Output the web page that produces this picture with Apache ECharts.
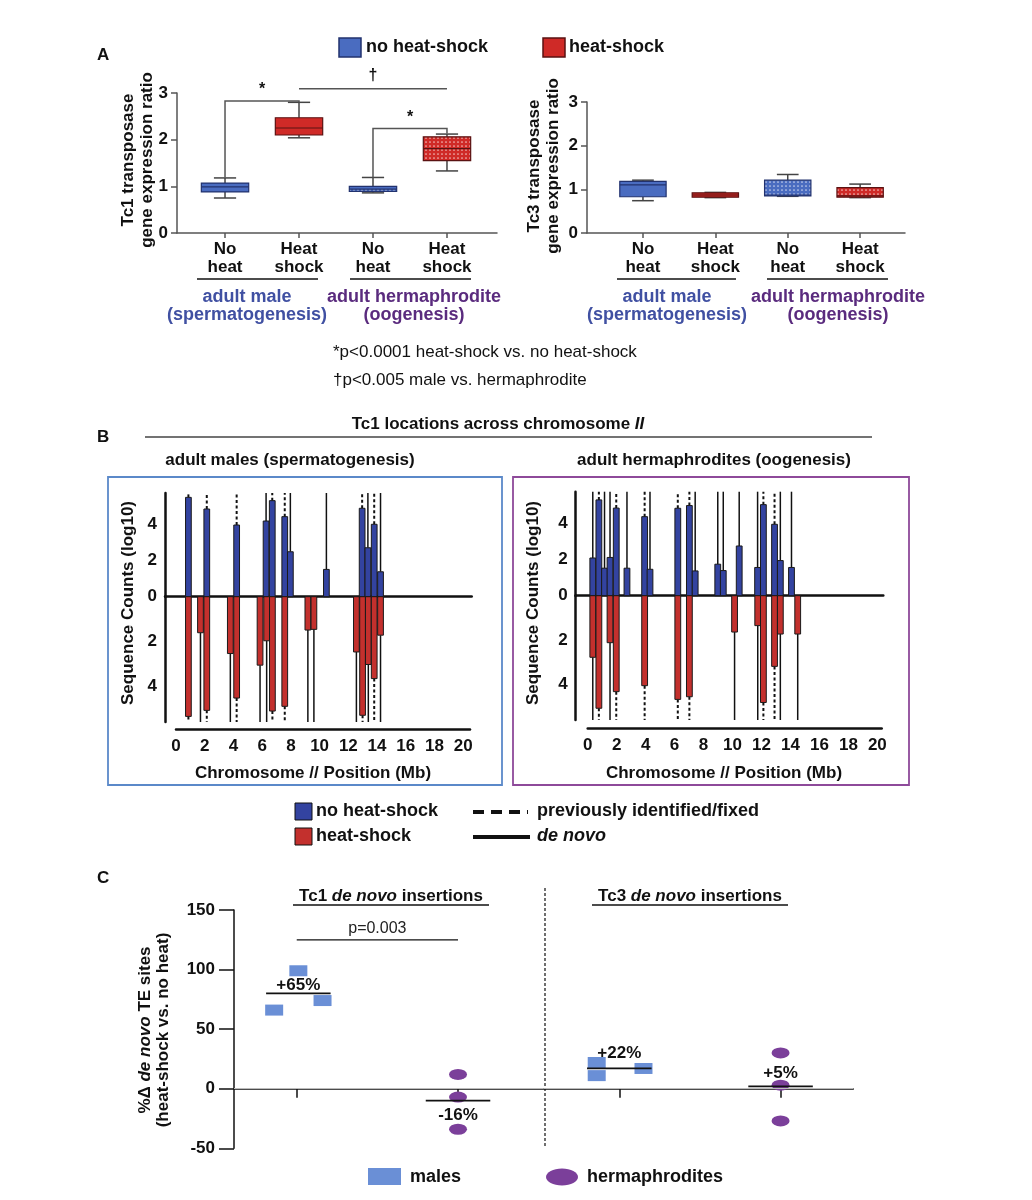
<!DOCTYPE html>
<html><head><meta charset="utf-8">
<script src="https://cdn.jsdelivr.net/npm/echarts@6/dist/echarts.min.js"></script>
<style>html,body{margin:0;padding:0;background:#fff}#c{width:1032px;height:1200px}</style>
</head><body><div id="c"></div><script>
// ---------- Panel A data ----------
const boxCats = ['No\nheat', 'Heat\nshock', 'No\nheat', 'Heat\nshock'];
const boxPos = [1, 2, 3, 4];
const tc1Min = [0.75, 2.04, 0.86, 1.33];
const tc1Q1  = [0.88, 2.10, 0.89, 1.55];
const tc1Med = [0.99, 2.25, 0.94, 1.81];
const tc1Q3  = [1.07, 2.47, 1.00, 2.06];
const tc1Max = [1.18, 2.80, 1.19, 2.12];
const tc3Min = [0.74, 0.81, 0.84, 0.81];
const tc3Q1  = [0.83, 0.82, 0.85, 0.82];
const tc3Med = [1.10, 0.87, 0.87, 0.85];
const tc3Q3  = [1.18, 0.92, 1.21, 1.04];
const tc3Max = [1.21, 0.93, 1.34, 1.12];
// significance brackets (Tc1)
const brkX1 = [1, 3, 2];
const brkX2 = [2, 4, 4];
const brkY1 = [1.19, 1.19, null];
const brkY2 = [2.80, 2.13, null];
const brkTop = [2.83, 2.24, 3.09];
const brkLabel = ['*', '*', '\u2020'];

// ---------- Panel B data (position Mb, log10 count, 1 = previously identified / 0 = de novo) ----------
const maleNoHsPos = [0.86, 2.14, 4.22, 6.27, 6.70, 7.57, 7.96, 10.47, 12.96, 13.36, 13.80, 14.24];
const maleNoHsVal = [5.46, 4.82, 3.94, 4.16, 5.28, 4.40, 2.47, 1.50, 4.86, 2.69, 3.98, 1.37];
const maleNoHsFixed = [1, 1, 1, 0, 1, 1, 0, 0, 1, 0, 1, 0];
const maleHsPos = [0.86, 1.70, 2.14, 3.78, 4.22, 5.85, 6.31, 6.71, 7.57, 9.18, 9.60, 12.56, 12.99, 13.39, 13.80, 14.24];
const maleHsVal = [5.35, 1.61, 5.08, 2.54, 4.53, 3.06, 1.97, 5.11, 4.90, 1.49, 1.46, 2.47, 5.30, 3.03, 3.66, 1.72];
const maleHsFixed = [1, 0, 1, 0, 1, 0, 0, 1, 1, 0, 0, 0, 1, 0, 1, 0];
const hermNoHsPos = [0.35, 0.77, 1.16, 1.54, 1.97, 2.71, 3.93, 4.30, 6.22, 7.02, 7.42, 8.98, 9.36, 10.46, 11.73, 12.13, 12.90, 13.30, 14.07];
const hermNoHsVal = [2.07, 5.26, 1.51, 2.10, 4.81, 1.51, 4.34, 1.45, 4.80, 4.95, 1.36, 1.73, 1.38, 2.73, 1.55, 5.00, 3.92, 1.93, 1.55];
const hermNoHsFixed = [0, 1, 0, 0, 1, 0, 1, 0, 1, 1, 0, 0, 0, 0, 0, 1, 1, 0, 0];
const hermHsPos = [0.35, 0.77, 1.54, 1.97, 3.93, 6.22, 7.02, 10.14, 11.74, 12.13, 12.90, 13.30, 14.50];
const hermHsVal = [2.78, 5.08, 2.12, 4.33, 4.06, 4.68, 4.56, 1.64, 1.35, 4.82, 3.19, 1.73, 1.73];
const hermHsFixed = [0, 1, 0, 1, 1, 1, 1, 0, 0, 1, 1, 0, 0];
const chrTicks = [0, 2, 4, 6, 8, 10, 12, 14, 16, 18, 20];
const countTicksUp = [0, 2, 4];
const countTicksDown = [2, 4];

// ---------- Panel C data ----------
const tc1MaleX = [0.86, 1.01, 1.16];
const tc1MaleY = [66, 99, 74];
const tc1HermX = [2, 2, 2];
const tc1HermY = [12, -7, -34];
const tc3MaleX = [2.86, 2.86, 3.15];
const tc3MaleY = [22, 11, 17];
const tc3HermX = [4, 4, 4];
const tc3HermY = [30, 3, -27];
const meanX = [1.01, 2, 3.0, 4];
const meanVal = [80, -10, 17, 2];
const meanLabel = ['+65%', '-16%', '+22%', '+5%'];
const meanLabelY = [87, -22, 30, 13];
const pvalX1 = 1, pvalX2 = 2, pvalY = 125, pvalText = 'p=0.003';

// ---------- styling ----------
const FONT = '"Liberation Sans", Arial, sans-serif';
const NARROW = '"Liberation Sans Narrow", "Liberation Sans", Arial, sans-serif';
const BLUE = '#4a6cc0', RED = '#cf2a27';
const BAR_BLUE = '#3343a0', BAR_RED = '#c3302d';
function pattern(bg) {
  const c = document.createElement('canvas'); c.width = 4; c.height = 4;
  const g = c.getContext('2d'); g.fillStyle = bg; g.fillRect(0, 0, 4, 4);
  g.fillStyle = 'rgba(255,255,255,0.7)'; g.beginPath(); g.arc(2, 2, 0.85, 0, Math.PI * 2); g.fill();
  return { image: c, repeat: 'repeat' };
}
const boxFills = [BLUE, RED, pattern(BLUE), pattern(RED)];
const boxStrokes = ['#22326e', '#5a1212', '#22326e', '#5a1212'];

function boxRender(params, api) {
  const x = api.value(0), i = api.value(6);
  const hw = api.size([0.64, 0])[0] / 2, cw = api.size([0.3, 0])[0] / 2;
  const pMin = api.coord([x, api.value(1)]), pQ1 = api.coord([x, api.value(2)]),
        pMed = api.coord([x, api.value(3)]), pQ3 = api.coord([x, api.value(4)]),
        pMax = api.coord([x, api.value(5)]);
  const ls = { stroke: '#444', lineWidth: 1.5 };
  return { type: 'group', children: [
    { type: 'line', shape: { x1: pMin[0], y1: pMin[1], x2: pQ1[0], y2: pQ1[1] }, style: ls },
    { type: 'line', shape: { x1: pQ3[0], y1: pQ3[1], x2: pMax[0], y2: pMax[1] }, style: ls },
    { type: 'line', shape: { x1: pMin[0] - cw, y1: pMin[1], x2: pMin[0] + cw, y2: pMin[1] }, style: ls },
    { type: 'line', shape: { x1: pMax[0] - cw, y1: pMax[1], x2: pMax[0] + cw, y2: pMax[1] }, style: ls },
    { type: 'rect', shape: { x: pQ3[0] - hw, y: pQ3[1], width: hw * 2, height: Math.max(pQ1[1] - pQ3[1], 2) },
      style: { fill: boxFills[i], stroke: boxStrokes[i], lineWidth: 1.2 } },
    { type: 'line', shape: { x1: pMed[0] - hw, y1: pMed[1], x2: pMed[0] + hw, y2: pMed[1] }, style: { stroke: boxStrokes[i], lineWidth: 1.2 } }
  ]};
}
function bracketRender(params, api) {
  const i = params.dataIndex;
  const x1 = brkX1[i], x2 = brkX2[i], top = brkTop[i];
  const a = api.coord([x1, top]), b = api.coord([x2, top]);
  const pts = [];
  if (brkY1[i] != null) pts.push(api.coord([x1, brkY1[i]]));
  pts.push(a, b);
  if (brkY2[i] != null) pts.push(api.coord([x2, brkY2[i]]));
  return { type: 'group', children: [
    { type: 'polyline', shape: { points: pts }, style: { stroke: '#555', lineWidth: 1.5, fill: null } },
    { type: 'text', x: (a[0] + b[0]) / 2, y: a[1] - (brkLabel[i] === '*' ? 3 : 5),
      style: { text: brkLabel[i], font: 'bold 16px ' + FONT, fill: '#111', align: 'center', verticalAlign: 'bottom' } }
  ]};
}
const BW = 0.4;
function barRender(fill, vmax) {
  return function (params, api) {
    const x = api.value(0), v = api.value(1), fixed = api.value(2);
    const a = api.coord([x - BW / 2, 0]), b = api.coord([x + BW / 2, v]);
    const tip = api.coord([x, v]), end = api.coord([x, vmax]);
    return { type: 'group', children: [
      { type: 'line', shape: { x1: tip[0], y1: tip[1], x2: end[0], y2: end[1] },
        style: fixed ? { stroke: '#111', lineWidth: 2, lineDash: [3, 2.5] } : { stroke: '#111', lineWidth: 1.5 } },
      { type: 'rect', shape: { x: Math.min(a[0], b[0]), y: Math.min(a[1], b[1]), width: Math.abs(b[0] - a[0]), height: Math.abs(b[1] - a[1]) },
        style: { fill: fill, stroke: '#1a1a1a', lineWidth: 1 } }
    ]};
  };
}
function meanRender(params, api) {
  const i = params.dataIndex;
  const a = api.coord([meanX[i] - 0.2, meanVal[i]]), b = api.coord([meanX[i] + 0.2, meanVal[i]]);
  const t = api.coord([meanX[i], meanLabelY[i]]);
  return { type: 'group', children: [
    { type: 'line', shape: { x1: a[0], y1: a[1], x2: b[0], y2: b[1] }, style: { stroke: '#111', lineWidth: 1.8 } },
    { type: 'text', x: t[0], y: t[1], style: { text: meanLabel[i], font: 'bold 17px ' + FONT, fill: '#111', align: 'center', verticalAlign: 'middle' } }
  ]};
}
function pvalRender(params, api) {
  const a = api.coord([pvalX1, pvalY]), b = api.coord([pvalX2, pvalY]);
  return { type: 'group', children: [
    { type: 'line', shape: { x1: a[0], y1: a[1], x2: b[0], y2: b[1] }, style: { stroke: '#111', lineWidth: 1.3 } },
    { type: 'text', x: (a[0] + b[0]) / 2, y: a[1] - 3, style: { text: pvalText, font: '16px ' + FONT, fill: '#222', align: 'center', verticalAlign: 'bottom' } }
  ]};
}

const bold17 = { color: '#111', fontWeight: 'bold', fontSize: 17, fontFamily: FONT };
function boxXAxis(gi, min, max) {
  return { gridIndex: gi, type: 'value', min: min, max: max,
    axisLine: { show: true, lineStyle: { color: '#555', width: 1.5 } },
    axisTick: { show: true, customValues: boxPos, length: 5, lineStyle: { color: '#555', width: 1.5 } },
    axisLabel: { show: true, customValues: boxPos, formatter: v => boxCats[Math.round(v) - 1], margin: 7,
      lineHeight: 18, ...bold17 }, splitLine: { show: false } };
}
function boxYAxis(gi) {
  return { gridIndex: gi, type: 'value', min: 0, max: 3, interval: 1,
    axisLine: { show: true, lineStyle: { color: '#555', width: 1.5 } },
    axisTick: { show: true, length: 6, lineStyle: { color: '#555', width: 1.5 } },
    axisLabel: { ...bold17, margin: 9 }, splitLine: { show: false } };
}
function chrUpperX(gi, min, max) {
  return { gridIndex: gi, type: 'value', min: min, max: max, position: 'bottom',
    axisLine: { show: true, onZero: false, lineStyle: { color: '#111', width: 2.5 } },
    axisTick: { show: false }, axisLabel: { show: false }, splitLine: { show: false } };
}
function chrLowerX(gi, min, max) {
  return { gridIndex: gi, type: 'value', min: min, max: max, show: false, splitLine: { show: false } };
}
function chrAxisX(gi, max) {
  return { gridIndex: gi, type: 'value', min: 0, max: max, position: 'bottom',
    axisLine: { show: true, onZero: false, lineStyle: { color: '#111', width: 2.5 } },
    axisTick: { show: false }, splitLine: { show: false },
    axisLabel: { customValues: chrTicks, margin: 9, ...bold17, fontSize: 17 } };
}
function countY(gi, max, inverse, ticks) {
  return { gridIndex: gi, type: 'value', min: 0, max: max, inverse: inverse,
    axisLine: { show: true, onZero: false, lineStyle: { color: '#111', width: 2.5 } },
    axisTick: { show: false }, splitLine: { show: false },
    axisLabel: { customValues: ticks, margin: 8, ...bold17 } };
}
function hiddenY(gi) { return { gridIndex: gi, type: 'value', min: 0, max: 1, show: false, splitLine: { show: false } }; }

// ---------- graphic helpers ----------
const G = [];
function T(x, y, text, font, fill, align, extra) {
  G.push(Object.assign({ type: 'text', x: x, y: y, style: { text: text, font: font, fill: fill || '#111', align: align || 'left', verticalAlign: 'middle' } }, extra || {}));
}
function L(x1, y1, x2, y2, w, color, dash) {
  G.push({ type: 'line', shape: { x1, y1, x2, y2 }, style: { stroke: color || '#111', lineWidth: w || 1.5, lineDash: dash || null } });
}
function R(x, y, w, h, fill, stroke, lw) {
  G.push({ type: 'rect', shape: { x, y, width: w, height: h }, style: { fill: fill, stroke: stroke, lineWidth: lw || 1 } });
}
const B18 = 'bold 18px ' + FONT, B17 = 'bold 17px ' + FONT;
// Panel letters
T(97, 55, 'A', B17); T(97, 437, 'B', B17); T(97, 878, 'C', B17);
// Panel A legend
R(339, 38, 22, 19, BLUE, '#22326e', 1.5); T(366, 47, 'no heat-shock', B18);
R(543, 38, 22, 19, RED, '#5a1212', 1.5); T(569, 47, 'heat-shock', B18);
// Panel A y titles
const rot = { rotation: Math.PI / 2 };
T(128, 160, 'Tc1 transposase', 'bold 17px ' + FONT, '#111', 'center', rot);
T(147, 160, 'gene expression ratio', 'bold 17px ' + FONT, '#111', 'center', rot);
T(534, 166, 'Tc3 transposase', 'bold 17px ' + FONT, '#111', 'center', rot);
T(553, 166, 'gene expression ratio', 'bold 17px ' + FONT, '#111', 'center', rot);
// Panel A group lines & labels
L(197, 279, 318, 279, 1.5); L(350, 279, 471, 279, 1.5);
L(617, 279, 736, 279, 1.5); L(767, 279, 888, 279, 1.5);
const MBLUE = '#4050a2', MPURP = '#5a2b7e';
T(247, 297, 'adult male', B18, MBLUE, 'center'); T(247, 315, '(spermatogenesis)', B18, MBLUE, 'center');
T(414, 297, 'adult hermaphrodite', B18, MPURP, 'center'); T(414, 315, '(oogenesis)', B18, MPURP, 'center');
T(667, 297, 'adult male', B18, MBLUE, 'center'); T(667, 315, '(spermatogenesis)', B18, MBLUE, 'center');
T(838, 297, 'adult hermaphrodite', B18, MPURP, 'center'); T(838, 315, '(oogenesis)', B18, MPURP, 'center');
// footnotes
T(333, 352, '*p<0.0001 heat-shock vs. no heat-shock', '17px ' + FONT, '#111');
T(333, 380, '\u2020p<0.005 male vs. hermaphrodite', '17px ' + FONT, '#111');
// Panel B headings
G.push({ type: 'text', x: 498, y: 424, style: { text: 'Tc1 locations across chromosome {i|II}', font: 'bold 17px ' + NARROW, fill: '#111', align: 'center', verticalAlign: 'middle',
  rich: { i: { font: 'italic bold 17px ' + NARROW, fill: '#111' } } } });
L(145, 437, 872, 437, 1.5, '#444');
T(290, 460, 'adult males (spermatogenesis)', 'bold 17px ' + NARROW, '#111', 'center');
T(714, 460, 'adult hermaphrodites (oogenesis)', 'bold 17px ' + NARROW, '#111', 'center');
R(108, 477, 394, 308, null, '#5b89c9', 1.8);
R(513, 477, 396, 308, null, '#8e4a9a', 1.8);
T(128, 603, 'Sequence Counts (log10)', 'bold 17px ' + FONT, '#111', 'center', rot);
T(533, 603, 'Sequence Counts (log10)', 'bold 17px ' + FONT, '#111', 'center', rot);
T(313, 773, 'Chromosome // Position (Mb)', 'bold 17px ' + FONT, '#111', 'center');
T(724, 773, 'Chromosome // Position (Mb)', 'bold 17px ' + FONT, '#111', 'center');
// Panel B legend
R(295, 803, 17, 17, BAR_BLUE, '#111', 1); T(316, 811, 'no heat-shock', B18);
R(295, 828, 17, 17, BAR_RED, '#111', 1); T(316, 836, 'heat-shock', B18);
L(473, 812, 528, 812, 4, '#111', [11, 7]); T(537, 811, 'previously identified/fixed', B18);
L(473, 837, 530, 837, 4, '#111'); T(537, 836, 'de novo', 'italic bold 18px ' + FONT);
// Panel C titles
G.push({ type: 'text', x: 391, y: 896, style: { text: 'Tc1 {i|de novo} insertions', font: 'bold 17px ' + FONT, fill: '#111', align: 'center', verticalAlign: 'middle',
  rich: { i: { font: 'italic bold 17px ' + FONT, fill: '#111' } } } });
L(293, 905, 489, 905, 1.5);
G.push({ type: 'text', x: 690, y: 896, style: { text: 'Tc3 {i|de novo} insertions', font: 'bold 17px ' + FONT, fill: '#111', align: 'center', verticalAlign: 'middle',
  rich: { i: { font: 'italic bold 17px ' + FONT, fill: '#111' } } } });
L(592, 905, 788, 905, 1.5);
L(545, 888, 545, 1148, 1.3, '#222', [3, 2]);
G.push({ type: 'text', x: 145, y: 1030, rotation: Math.PI / 2, style: { text: '%\u0394 {i|de novo} TE sites', font: 'bold 17px ' + FONT, fill: '#111', align: 'center', verticalAlign: 'middle',
  rich: { i: { font: 'italic bold 17px ' + FONT, fill: '#111' } } } });
T(163, 1030, '(heat-shock vs. no heat)', 'bold 17px ' + FONT, '#111', 'center', rot);
// Panel C legend
R(368, 1168, 33, 17, '#6a8fd6', null); T(410, 1177, 'males', B18);
G.push({ type: 'ellipse', shape: { cx: 562, cy: 1177, rx: 16, ry: 8.5 }, style: { fill: '#7b3f9a' } });
T(587, 1177, 'hermaphrodites', B18);

const option = {
  backgroundColor: '#fff',
  animation: false,
  grid: [
    { left: 177, top: 93, width: 320, height: 140 },
    { left: 587, top: 102, width: 318, height: 131 },
    { left: 165, top: 493, width: 306.7, height: 103.7 },
    { left: 165, top: 596.7, width: 306.7, height: 125.3 },
    { left: 176, top: 728, width: 294, height: 1 },
    { left: 575.7, top: 491.7, width: 307.6, height: 104 },
    { left: 575.7, top: 595.7, width: 307.6, height: 124.3 },
    { left: 587.7, top: 727, width: 294, height: 1 },
    { left: 234, top: 910, width: 619.3, height: 238.3 }
  ],
  xAxis: [
    boxXAxis(0, 0.351, 4.676),
    boxXAxis(1, 0.227, 4.62),
    chrUpperX(2, -0.77, 20.59),
    chrLowerX(3, -0.77, 20.59),
    chrAxisX(4, 20.47),
    chrUpperX(5, -0.83, 20.41),
    chrLowerX(6, -0.83, 20.41),
    chrAxisX(7, 20.3),
    { gridIndex: 8, type: 'value', min: 0.611, max: 4.451,
      axisLine: { show: true, lineStyle: { color: '#111', width: 1.5 } },
      axisTick: { show: true, customValues: boxPos, length: 9, lineStyle: { color: '#111', width: 1.5 } },
      axisLabel: { show: false }, splitLine: { show: false } }
  ],
  yAxis: [
    boxYAxis(0), boxYAxis(1),
    countY(2, 5.7, false, countTicksUp),
    countY(3, 5.6, true, countTicksDown),
    hiddenY(4),
    countY(5, 5.71, false, countTicksUp),
    countY(6, 5.61, true, countTicksDown),
    hiddenY(7),
    { gridIndex: 8, type: 'value', min: -50, max: 150, interval: 50,
      axisLine: { show: true, lineStyle: { color: '#111', width: 1.5 } },
      axisTick: { show: true, length: 15, lineStyle: { color: '#111', width: 1.5 } },
      axisLabel: { ...bold17, margin: 19 }, splitLine: { show: false } }
  ],
  series: [
    { type: 'custom', xAxisIndex: 0, yAxisIndex: 0, renderItem: boxRender, encode: { x: 0, y: [1, 2, 3, 4, 5] },
      data: boxPos.map((p, i) => [p, tc1Min[i], tc1Q1[i], tc1Med[i], tc1Q3[i], tc1Max[i], i]) },
    { type: 'custom', xAxisIndex: 0, yAxisIndex: 0, renderItem: bracketRender, encode: { x: 0, y: 1 },
      data: brkX1.map((x, i) => [x, brkTop[i]]) },
    { type: 'custom', xAxisIndex: 1, yAxisIndex: 1, renderItem: boxRender, encode: { x: 0, y: [1, 2, 3, 4, 5] },
      data: boxPos.map((p, i) => [p, tc3Min[i], tc3Q1[i], tc3Med[i], tc3Q3[i], tc3Max[i], i]) },
    { type: 'custom', xAxisIndex: 2, yAxisIndex: 2, renderItem: barRender(BAR_BLUE, 5.7), encode: { x: 0, y: 1 },
      data: maleNoHsPos.map((p, i) => [p, maleNoHsVal[i], maleNoHsFixed[i]]) },
    { type: 'custom', xAxisIndex: 3, yAxisIndex: 3, renderItem: barRender(BAR_RED, 5.6), encode: { x: 0, y: 1 },
      data: maleHsPos.map((p, i) => [p, maleHsVal[i], maleHsFixed[i]]) },
    { type: 'custom', xAxisIndex: 5, yAxisIndex: 5, renderItem: barRender(BAR_BLUE, 5.71), encode: { x: 0, y: 1 },
      data: hermNoHsPos.map((p, i) => [p, hermNoHsVal[i], hermNoHsFixed[i]]) },
    { type: 'custom', xAxisIndex: 6, yAxisIndex: 6, renderItem: barRender(BAR_RED, 5.61), encode: { x: 0, y: 1 },
      data: hermHsPos.map((p, i) => [p, hermHsVal[i], hermHsFixed[i]]) },
    { type: 'scatter', xAxisIndex: 8, yAxisIndex: 8, symbol: 'rect', symbolSize: [18, 11], itemStyle: { color: '#6a8fd6', opacity: 1 },
      data: tc1MaleX.map((x, i) => [x, tc1MaleY[i]]).concat(tc3MaleX.map((x, i) => [x, tc3MaleY[i]])),
      markLine: { silent: true, symbol: 'none', label: { show: false }, lineStyle: { color: '#bbb', width: 1, type: 'solid' }, data: [{ yAxis: 0 }] } },
    { type: 'scatter', xAxisIndex: 8, yAxisIndex: 8, symbol: 'circle', symbolSize: [18, 11], itemStyle: { color: '#7b3f9a', opacity: 1 },
      data: tc1HermX.map((x, i) => [x, tc1HermY[i]]).concat(tc3HermX.map((x, i) => [x, tc3HermY[i]])) },
    { type: 'custom', xAxisIndex: 8, yAxisIndex: 8, renderItem: meanRender, encode: { x: 0, y: 1 }, z: 5,
      data: meanX.map((x, i) => [x, meanVal[i]]) },
    { type: 'custom', xAxisIndex: 8, yAxisIndex: 8, renderItem: pvalRender, encode: { x: 0, y: 1 },
      data: [[pvalX1, pvalY]] }
  ],
  graphic: { elements: G }
};
const chart = echarts.init(document.getElementById('c'), null, { renderer: 'canvas' });
chart.setOption(option);
</script></body></html>
